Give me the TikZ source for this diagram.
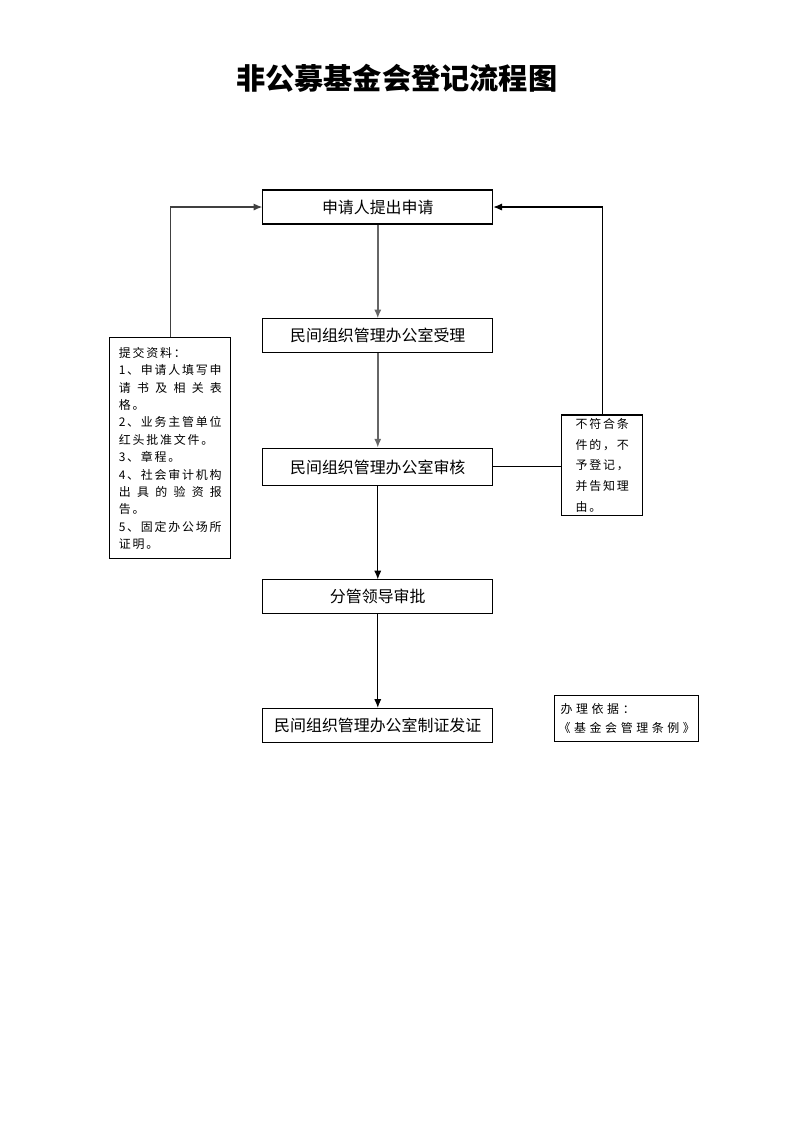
\documentclass[tikz,border=0pt]{standalone}
\usepackage{fontspec}
\newfontfamily\cjk{Noto Sans CJK SC}
\newfontfamily\cjknote[LetterSpace=15]{Noto Sans CJK SC}
\newfontfamily\cjkwide[LetterSpace=30]{Noto Sans CJK SC}
\usetikzlibrary{arrows.meta,calc}

\def\docw{2.73cm}
\newcommand{\fullline}[1]{\makebox[\docw][s]{#1}}

\begin{document}
\begin{tikzpicture}[>={Latex[length=2.3mm,width=1.9mm]},line width=0.8pt,
	flowbox/.style={draw,minimum width=6.09cm,minimum height=0.9cm,inner sep=0pt,
		font=\cjk\fontsize{12}{14}\selectfont},
	notebox/.style={draw,inner sep=0pt,align=left,
		font=\cjknote\fontsize{9}{13.1}\selectfont},
	greyline/.style={->,color=black!60,line width=1.2pt}]

\def\cx{10}

\useasboundingbox (0,0) rectangle (21,-29.7);

\node[font=\cjk\bfseries\fontsize{22}{26}\selectfont] (title) at (10.5,-2.06)
	{非公募基金会登记流程图};

% main column
\node[flowbox] (apply) at (\cx,-5.48) {申请人提出申请};
\node[flowbox] (accept) at (\cx,-8.89) {民间组织管理办公室受理};
\node[flowbox,minimum height=1.0cm] (review) at (\cx,-12.36) {民间组织管理办公室审核};
\node[flowbox] (approve) at (\cx,-15.8) {分管领导审批};
\node[flowbox] (issue) at (\cx,-19.2) {民间组织管理办公室制证发证};

% side notes
\node[notebox,minimum width=3.2cm,minimum height=5.85cm] (docs) at (4.51,-11.87)
	{提交资料：\\
	\fullline{1、申请人填写申}\\
	\fullline{请\hfil 书\hfil 及\hfil 相\hfil 关\hfil 表}\\
	格。\\
	\fullline{2、业务主管单位}\\
	\fullline{红头批准文件。}\\
	3、章程。\\
	\fullline{4、社会审计机构}\\
	\fullline{出\hfil 具\hfil 的\hfil 验\hfil 资\hfil 报}\\
	告。\\
	\fullline{5、固定办公场所}\\
	证明。};

\node[notebox,font=\cjknote\fontsize{9}{15.75}\selectfont,
	minimum width=2.14cm,minimum height=2.67cm] (reject) at (15.94,-12.32)
	{不符合条\\
	件的，不\\
	予登记，\\
	并告知理\\
	由。};

\node[notebox,font=\cjkwide\fontsize{9}{14}\selectfont,
	minimum width=3.81cm,minimum height=1.22cm] (basis) at (16.59,-19.02)
	{\,办理依据：\\
	《基金会管理条例》};

% connectors
\draw[greyline] (apply.south) -- (accept.north);
\draw[greyline] (accept.south) -- (review.north);
\draw[->] (review.south) -- (approve.north);
\draw[->] (approve.south) -- (issue.north);

\draw[->,color=black!75] (docs.north) |- (apply.west);
\draw (review.east) -- (review.east -| reject.west);
\draw[->] (reject.north) |- (apply.east);

\end{tikzpicture}
\end{document}
